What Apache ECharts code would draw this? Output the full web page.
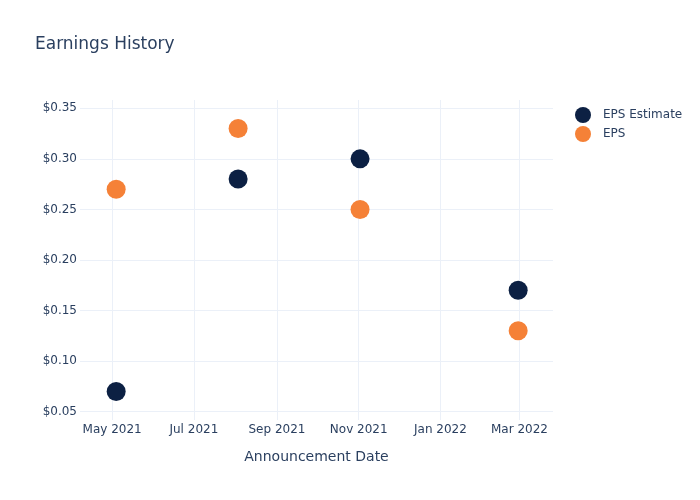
<!DOCTYPE html>
<html>
<head>
<meta charset="utf-8">
<script src="https://cdn.jsdelivr.net/npm/echarts@6/dist/echarts.min.js"></script>
<style>html,body{margin:0;padding:0;background:#fff}#c{width:700px;height:500px}</style>
</head>
<body>
<div id="c"></div>
<script>
const dates = ['2021-05-04', '2021-08-03', '2021-11-02', '2022-02-28'];
const epsEstimate = [0.07, 0.28, 0.30, 0.17];
const eps = [0.27, 0.33, 0.25, 0.13];
const xTicks = ['2021-05-01', '2021-07-01', '2021-09-01', '2021-11-01', '2022-01-01', '2022-03-01'];
const yTicks = [0.05, 0.10, 0.15, 0.20, 0.25, 0.30, 0.35];
const monthNames = ['Jan','Feb','Mar','Apr','May','Jun','Jul','Aug','Sep','Oct','Nov','Dec'];

const ts = s => { const p = s.split('-').map(Number); return Date.UTC(p[0], p[1]-1, p[2]); };
const xTickVals = xTicks.map(ts);
const textColor = '#2a3f5f';
const gridColor = '#ebf0f8';
const font = 'DejaVu Sans, sans-serif';

const chart = echarts.init(document.getElementById('c'), null, {renderer: 'canvas'});
chart.setOption({
  animation: false,
  backgroundColor: '#fff',
  title: {
    text: 'Earnings History', left: 35, top: 36, padding: 0,
    textStyle: {color: textColor, fontSize: 17, fontWeight: 'normal', fontFamily: font}
  },
  legend: {
    orient: 'vertical', left: 575, top: 107, padding: 0,
    itemWidth: 30, itemHeight: 16, itemGap: 3, icon: 'circle',
    textStyle: {color: textColor, fontSize: 12, fontFamily: font},
    data: ['EPS Estimate', 'EPS']
  },
  grid: {left: 80, right: 147, top: 100, bottom: 80, containLabel: false},
  xAxis: {
    type: 'value',
    min: ts('2021-04-07'), max: ts('2022-03-26'),
    name: 'Announcement Date', nameLocation: 'middle', nameGap: 30,
    nameTextStyle: {color: textColor, fontSize: 14, fontFamily: font},
    axisLine: {show: false}, axisTick: {show: false, customValues: xTickVals},
    axisLabel: {
      customValues: xTickVals, color: textColor, fontSize: 12, margin: 4,
      fontFamily: font, showMinLabel: true, showMaxLabel: true,
      formatter: v => { const d = new Date(v); return monthNames[d.getUTCMonth()] + ' ' + d.getUTCFullYear(); }
    },
    splitLine: {show: true, lineStyle: {color: gridColor, width: 1}}
  },
  yAxis: {
    type: 'value', min: 0.0418, max: 0.3582,
    axisLine: {show: false}, axisTick: {show: false, customValues: yTicks},
    axisLabel: {
      customValues: yTicks, color: textColor, fontSize: 12, margin: 3,
      fontFamily: font,
      formatter: v => '$' + v.toFixed(2)
    },
    splitLine: {show: true, lineStyle: {color: gridColor, width: 1}}
  },
  series: [
    {name: 'EPS Estimate', type: 'scatter', symbolSize: 19,
     itemStyle: {color: '#0c2043', opacity: 1},
     data: dates.map((d, i) => [ts(d), epsEstimate[i]])},
    {name: 'EPS', type: 'scatter', symbolSize: 19,
     itemStyle: {color: '#f58137', opacity: 1},
     data: dates.map((d, i) => [ts(d), eps[i]])}
  ]
});
</script>
</body>
</html>
